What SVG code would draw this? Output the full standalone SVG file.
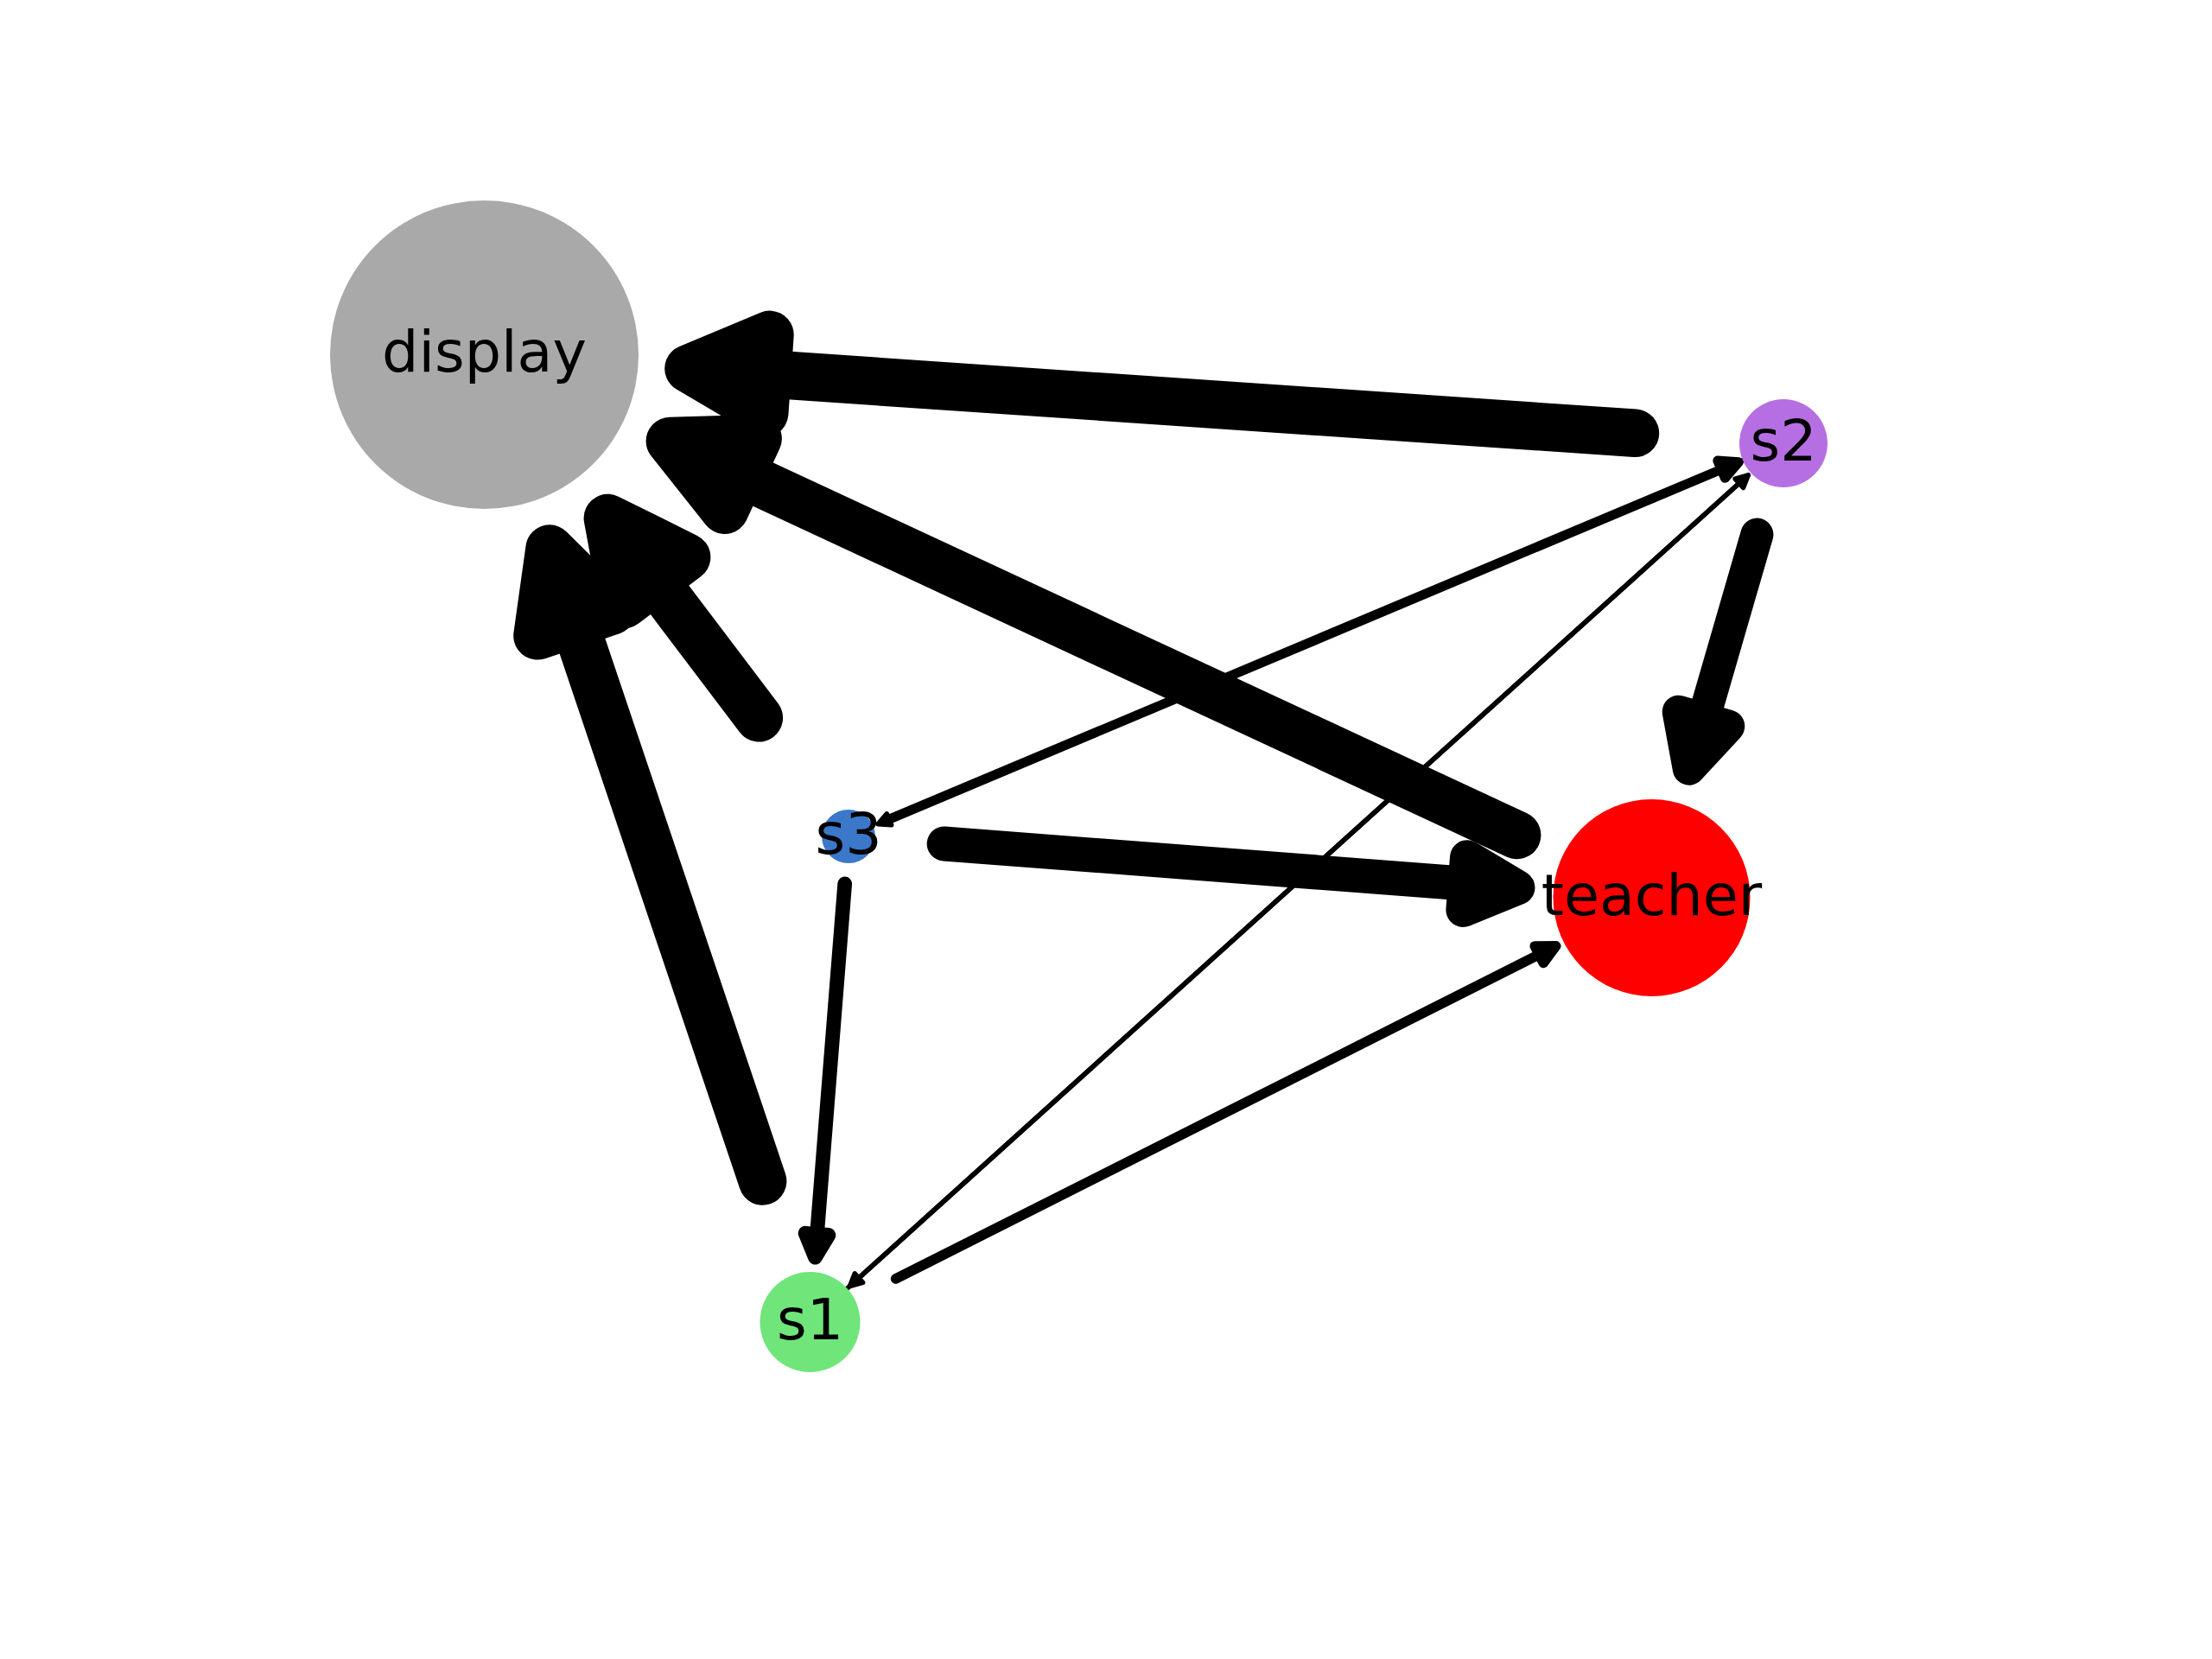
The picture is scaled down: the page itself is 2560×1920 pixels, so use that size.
<svg xmlns="http://www.w3.org/2000/svg" width="2560" height="1920" viewBox="0 0 2560 1920">
<style>
.shaft{fill:none;stroke:#000;stroke-linecap:round;stroke-linejoin:round}
.head{fill:#000;stroke:#000;stroke-linejoin:round}
.w1{stroke-width:55.6}
.w2{stroke-width:40}
.w3{stroke-width:38}
.w4{stroke-width:11.5}
.w5{stroke-width:16.7}
.w6{stroke-width:5.56}
.w7{stroke-width:11}
.lbl{font-family:"DejaVu Sans","Liberation Sans",sans-serif;font-size:66.7px;fill:#000;text-anchor:middle}
</style>
<rect x="0" y="0" width="2560" height="1920" fill="#fff"/>
<g id="edges">
<g id="e-s2-display"><path class="shaft w1" d="M1892.4,501.3 L887.8,432.8"/><polygon class="head w1" points="890.9,387.4 797.0,426.6 884.7,478.2"/></g>
<g id="e-teacher-display"><path class="shaft w1" d="M1755.6,966.5 L857.9,548.9"/><polygon class="head w1" points="877.1,507.6 775.4,510.5 838.7,590.2"/></g>
<g id="e-s1-display"><path class="shaft w1" d="M882.6,1367.0 L665.1,721.3"/><polygon class="head w1" points="708.2,706.8 636.1,635.1 622.0,735.8"/></g>
<g id="e-s3-display"><path class="shaft w1" d="M878.3,830.8 L758.3,672.2"/><polygon class="head w1" points="794.6,644.8 703.4,599.6 722.0,699.6"/></g>
<g id="e-s3-teacher"><path class="shaft w2" d="M1092.7,976.5 L1695.7,1022.6"/><polygon class="head w2" points="1693.4,1053.0 1756.5,1027.2 1698.0,992.2"/></g>
<g id="e-s2-teacher"><path class="shaft w3" d="M2033.4,618.6 L1971.5,832.1"/><polygon class="head w3" points="1942.7,823.7 1954.8,889.7 2000.3,840.5"/></g>
<g id="e-s1-teacher"><path class="shaft w4" d="M1036.6,1480.0 L1781.2,1104.7"/><polygon class="head w4" points="1786.2,1114.5 1800.8,1094.8 1776.2,1094.9"/></g>
<g id="e-s3-s1"><path class="shaft w5" d="M977.7,1022.8 L945.5,1428.3"/><polygon class="head w5" points="932.0,1427.2 943.4,1455.2 959.0,1429.4"/></g>
<g id="e-s2-s1"><path class="shaft w6" d="M2023.2,549.9 L993.9,1479.1"/><polygon class="head w6" points="989.2,1473.9 983.5,1488.5 998.6,1484.3"/></g>
<g id="e-s1-s2"><path class="shaft w6" d="M973.1,1497.8 L2012.8,559.3"/><polygon class="head w6" points="2017.5,564.5 2023.2,549.9 2008.1,554.1"/></g>
<g id="e-s3-s2"><path class="shaft w7" d="M1026.2,949.4 L1992.1,543.2"/><polygon class="head w7" points="1996.4,553.3 2012.4,534.7 1987.8,533.1"/></g>
<g id="e-s2-s3"><path class="shaft w6" d="M2038.2,523.9 L1029.0,948.3"/><polygon class="head w6" points="1026.3,941.8 1016.1,953.7 1031.7,954.8"/></g>
</g>
<g id="node-display"><circle cx="560.5" cy="410.5" r="178.5" fill="#a9a9a9"/><text class="lbl" x="560.5" y="430">display</text></g>
<g id="node-s2"><circle cx="2064" cy="513" r="51" fill="#b56fe3"/><text class="lbl" x="2064" y="532.5">s2</text></g>
<g id="node-teacher"><circle cx="1911.5" cy="1039" r="114" fill="#ff0000"/><text class="lbl" x="1911.5" y="1058.5">teacher</text></g>
<g id="node-s3"><circle cx="982" cy="968" r="31" fill="#3b78c9"/><text class="lbl" x="982" y="987.5">s3</text></g>
<g id="node-s1"><circle cx="937.5" cy="1530" r="58" fill="#6fe57a"/><text class="lbl" x="937.5" y="1549.5">s1</text></g>
</svg>
